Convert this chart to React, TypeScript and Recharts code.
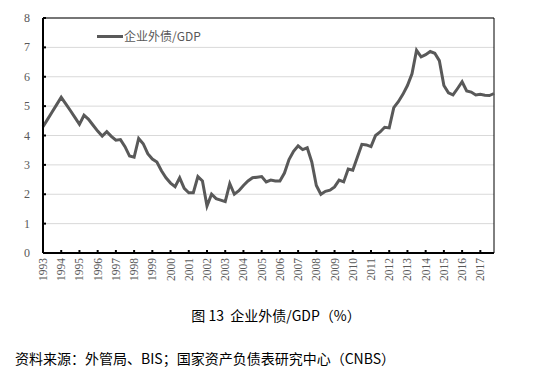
import { LineChart, Line, XAxis, YAxis, CartesianGrid, ReferenceLine } from "recharts";

const years = [
  1993, 1994, 1995, 1996, 1997, 1998, 1999, 2000, 2001, 2002, 2003, 2004, 2005,
  2006, 2007, 2008, 2009, 2010, 2011, 2012, 2013, 2014, 2015, 2016, 2017,
];

// quarterly values, one row per year (Q1..Q4)
const debtToGdp = [
  4.3, 4.55, 4.8, 5.05,
  5.3, 5.08, 4.85, 4.62,
  4.38, 4.69, 4.55, 4.35,
  4.15, 3.98, 4.13, 3.97,
  3.84, 3.86, 3.62, 3.3,
  3.26, 3.9, 3.72, 3.38,
  3.2, 3.1, 2.8, 2.56,
  2.38, 2.26, 2.56, 2.2,
  2.05, 2.05, 2.6, 2.45,
  1.6, 2.0, 1.85, 1.8,
  1.75, 2.36, 2.0, 2.12,
  2.3, 2.45, 2.56, 2.58,
  2.6, 2.42, 2.48, 2.45,
  2.45, 2.72, 3.18, 3.46,
  3.65, 3.52, 3.58, 3.1,
  2.3, 2.0, 2.1, 2.14,
  2.25, 2.48, 2.42, 2.86,
  2.82, 3.26, 3.7, 3.68,
  3.62, 4.0, 4.12, 4.28,
  4.26, 4.95, 5.15, 5.4,
  5.7, 6.1, 6.9, 6.68,
  6.75, 6.86, 6.8, 6.55,
  5.7, 5.45, 5.38, 5.6,
  5.83, 5.52, 5.48, 5.38,
  5.4, 5.37, 5.36, 5.43,
];

const yTicks = [0, 1, 2, 3, 4, 5, 6, 7, 8];

const quarters = years.flatMap((y) => ["Q1", "Q2", "Q3", "Q4"].map((q) => `${y}${q}`));
const data = quarters.map((q, i) => ({ q, v: debtToGdp[i] }));

const gray = "#595959";
const serif = "'Liberation Serif', 'DejaVu Serif', serif";
const cjk = "'Noto Sans CJK SC', 'Noto Sans', sans-serif";

const XTick = (props: any) => {
  const { x, y, payload } = props;
  return (
    <g>
      <line x1={x} x2={x} y1={y - 3} y2={y} stroke="#000" strokeWidth={2} />
      <text
        x={x}
        y={y + 5}
        transform={`rotate(-90, ${x}, ${y + 5})`}
        textAnchor="end"
        dominantBaseline="central"
        fontSize={11.5}
        fontFamily={serif}
        fill={gray}
      >
        {String(payload.value).slice(0, 4)}
      </text>
    </g>
  );
};

const YTick = (props: any) => {
  const { x, y, payload } = props;
  return (
    <g>
      <line x1={x} x2={x + 3} y1={y} y2={y} stroke="#000" strokeWidth={2} />
      <text x={x - 13} y={y} textAnchor="end" dominantBaseline="central" fontSize={12} fontFamily={serif} fill={gray}>
        {payload.value}
      </text>
    </g>
  );
};

export default function App() {
  return (
    <div style={{ position: "absolute", left: 0, top: 0, width: 548, height: 371, background: "#fff" }}>
      <LineChart width={548} height={300} data={data} margin={{ top: 18, right: 54, left: 13, bottom: 7 }}>
        <CartesianGrid horizontal vertical={false} stroke="#d9d9d9" />
        <XAxis
          dataKey="q"
          interval={3}
          tickSize={0}
          tickMargin={0}
          tick={<XTick />}
          tickLine={false}
          axisLine={{ stroke: "#000", strokeWidth: 2 }}
          height={40}
        />
        <YAxis
          domain={[0, 8]}
          ticks={yTicks}
          width={30}
          tickSize={0}
          tickMargin={0}
          tick={<YTick />}
          tickLine={false}
          axisLine={{ stroke: "#000", strokeWidth: 2 }}
        />
        <ReferenceLine y={8} stroke="#000" strokeWidth={1} />
        <ReferenceLine x={quarters[quarters.length - 1]} stroke="#000" strokeWidth={1} />
        <Line
          type="linear"
          dataKey="v"
          stroke={gray}
          strokeWidth={3}
          dot={false}
          isAnimationActive={false}
        />
      </LineChart>
      {/* legend box inside the plot */}
      <div style={{ position: "absolute", top: 27, left: 97, display: "flex", alignItems: "center" }}>
        <div style={{ width: 26, height: 3, background: gray, marginRight: 1 }} />
        <span style={{ fontSize: 12, fontFamily: cjk, color: gray, lineHeight: "18px" }}>企业外债/GDP</span>
      </div>
      <div
        style={{
          position: "absolute",
          top: 306,
          left: 0,
          width: 548,
          textAlign: "center",
          fontSize: 14,
          fontFamily: cjk,
          color: "#000",
          lineHeight: "18px",
          paddingLeft: 4,
          boxSizing: "border-box",
        }}
      >
        图 13&nbsp; 企业外债/GDP（%）
      </div>
      <div
        style={{
          position: "absolute",
          top: 349,
          left: 15,
          fontSize: 14,
          fontFamily: cjk,
          color: "#000",
          lineHeight: "18px",
          whiteSpace: "nowrap",
        }}
      >
        资料来源：外管局、BIS；国家资产负债表研究中心（CNBS）
      </div>
    </div>
  );
}
